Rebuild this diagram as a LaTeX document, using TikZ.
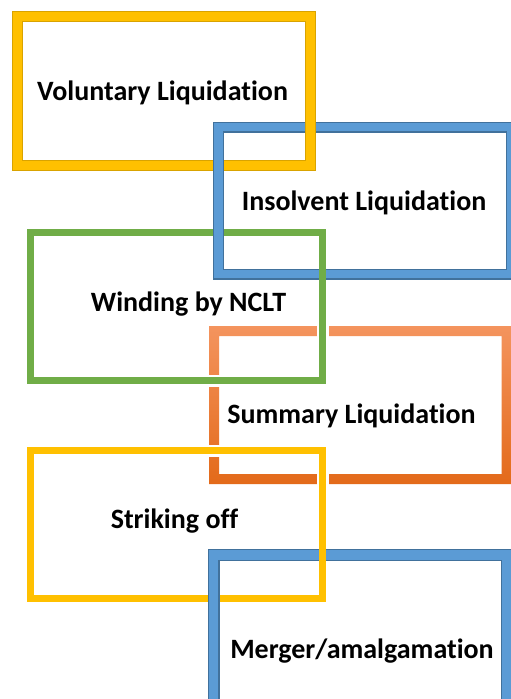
\documentclass[tikz,border=0pt]{standalone}
\usepackage{fontspec}
\setmainfont{Carlito}[Ligatures={NoCommon}]
\definecolor{yel}{HTML}{FFC000}
\definecolor{yelD}{HTML}{D9A300}
\definecolor{blu}{HTML}{5B9BD5}
\definecolor{bluD}{HTML}{41719C}
\definecolor{grn}{HTML}{70AD47}
\definecolor{orT}{HTML}{F4945E}
\definecolor{orB}{HTML}{E36A1A}
\begin{document}
\begin{tikzpicture}[x=1pt,y=-1pt,line join=miter,
  lbl/.style={font=\bfseries\fontsize{28}{32}\selectfont, anchor=base, inner sep=0pt},
  halo/.style={white, line width=12pt},
  yout/.style={yelD, line width=11pt}, yin/.style={yel, line width=9pt},
  bout/.style={bluD, line width=11pt}, bin/.style={blu, line width=8.6pt},
  bout2/.style={bluD, line width=12pt}, bin2/.style={blu, line width=9.6pt},
  gfr/.style={grn, line width=7pt},
  sfr/.style={yel, line width=7pt}]
\useasboundingbox (0,0) rectangle (511,699);
\clip (0,0) rectangle (511,699);
\fill[white] (0,0) rectangle (511,699);
% orange frame (bottom layer)
\shade[top color=orT, bottom color=orB, even odd rule]
  (209,326) rectangle (511.5,484) (219,336) rectangle (501.5,474);
% white halos where green / yellow pass over orange
\draw[halo] (322.5,323) -- (322.5,339);
\draw[halo] (206,380.5) -- (222,380.5);
\draw[halo] (206,450.5) -- (222,450.5);
\draw[halo] (322.5,471) -- (322.5,487);
% box 1 yellow
\draw[yout] (17.5,16.5) rectangle (310,165);
\draw[yin] (17.5,16.5) rectangle (310,165);
% box 2 blue
\draw[bout] (218.5,127) rectangle (511,274);
\draw[bin] (218.5,127) rectangle (511,274);
% yellow over blue top
\draw[yout] (310,119) -- (310,135);
\draw[yin] (310,119) -- (310,135);
% box 3 green
\draw[gfr] (30,232.5) rectangle (322.5,380.5);
% blue over green top
\draw[bout] (218.5,226) -- (218.5,239);
\draw[bin] (218.5,226) -- (218.5,239);
% box 5 yellow
\draw[sfr] (30,450.5) rectangle (322.5,598.5);
% box 6 blue
\draw[bout2] (213.5,555) rectangle (506.5,712);
\draw[bin2] (213.5,555) rectangle (506.5,712);
% yellow over blue top
\draw[sfr] (322.5,547) -- (322.5,563);
% labels
\node[lbl] (vol) at (162.5,100) {Voluntary Liquidation};
\node[lbl] (ins) at (364,210) {Insolvent Liquidation};
\node[lbl] (win) at (188.5,311) {Winding by NCLT};
\node[lbl] (sum) at (351.5,423) {Summary Liquidation};
\node[lbl] (str) at (174.5,528) {Striking off};
\node[lbl] (mer) at (362,658) {Merger/amalgamation};
\end{tikzpicture}
\end{document}
